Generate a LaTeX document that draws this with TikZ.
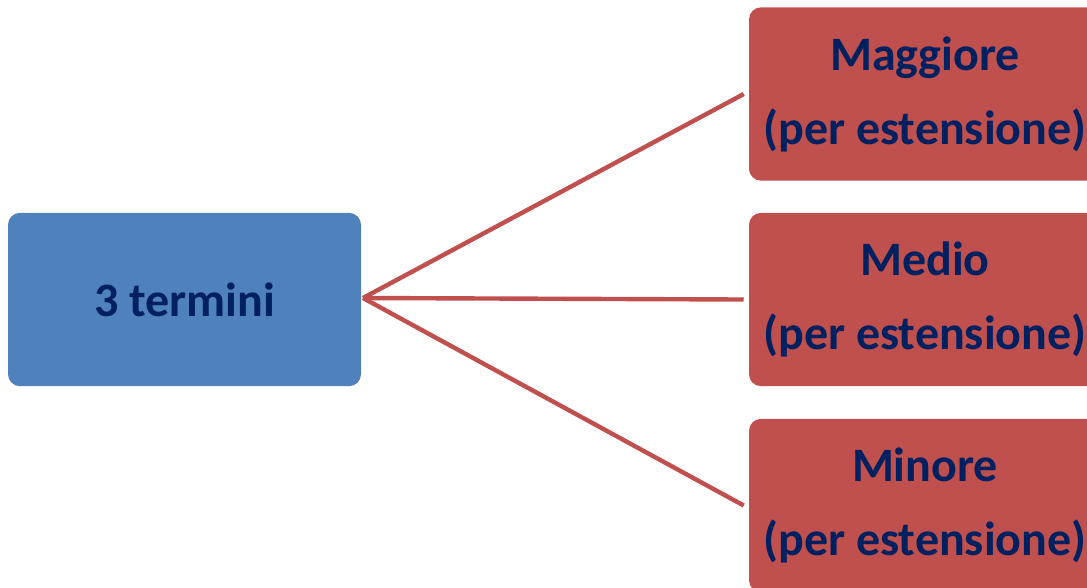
\documentclass[tikz,border=0pt]{standalone}
\usepackage{fontspec}
\setmainfont{Carlito}
\definecolor{boxblue}{HTML}{4F81BD}
\definecolor{boxred}{HTML}{C0504D}
\definecolor{txtnavy}{HTML}{002060}
\tikzset{
  bluebox/.style={fill=boxblue, rounded corners=9pt, minimum width=264.75pt, minimum height=130pt, inner sep=0pt, text=txtnavy, font=\bfseries\fontsize{36}{55.5}\selectfont, align=center},
  redbox/.style={fill=boxred, rounded corners=9pt, minimum width=264pt, minimum height=130pt, inner sep=0pt, text=txtnavy, font=\bfseries\fontsize{36}{55.5}\selectfont, align=center},
  link/.style={draw=boxred, line width=3.3pt}
}
\begin{document}
\begin{tikzpicture}[x=0.75pt,y=-0.75pt]
\useasboundingbox (0,0) rectangle (1087,587);
\clip (0,0) rectangle (1087,587);
\node[bluebox] (src) at (184.5,299.5) {3 termini};
\node[redbox] (maj) at (925,94) {Maggiore\\(per estensione)};
\node[redbox] (med) at (925,299.5) {Medio\\(per estensione)};
\node[redbox] (min) at (925,505.5) {Minore\\(per estensione)};
\coordinate (hub) at (363,298);
\draw[link] (hub) -- ([xshift=-3.75pt]maj.west);
\draw[link] (hub) -- ([xshift=-3.75pt]med.west);
\draw[link] (hub) -- ([xshift=-3.75pt]min.west);
\end{tikzpicture}
\end{document}
